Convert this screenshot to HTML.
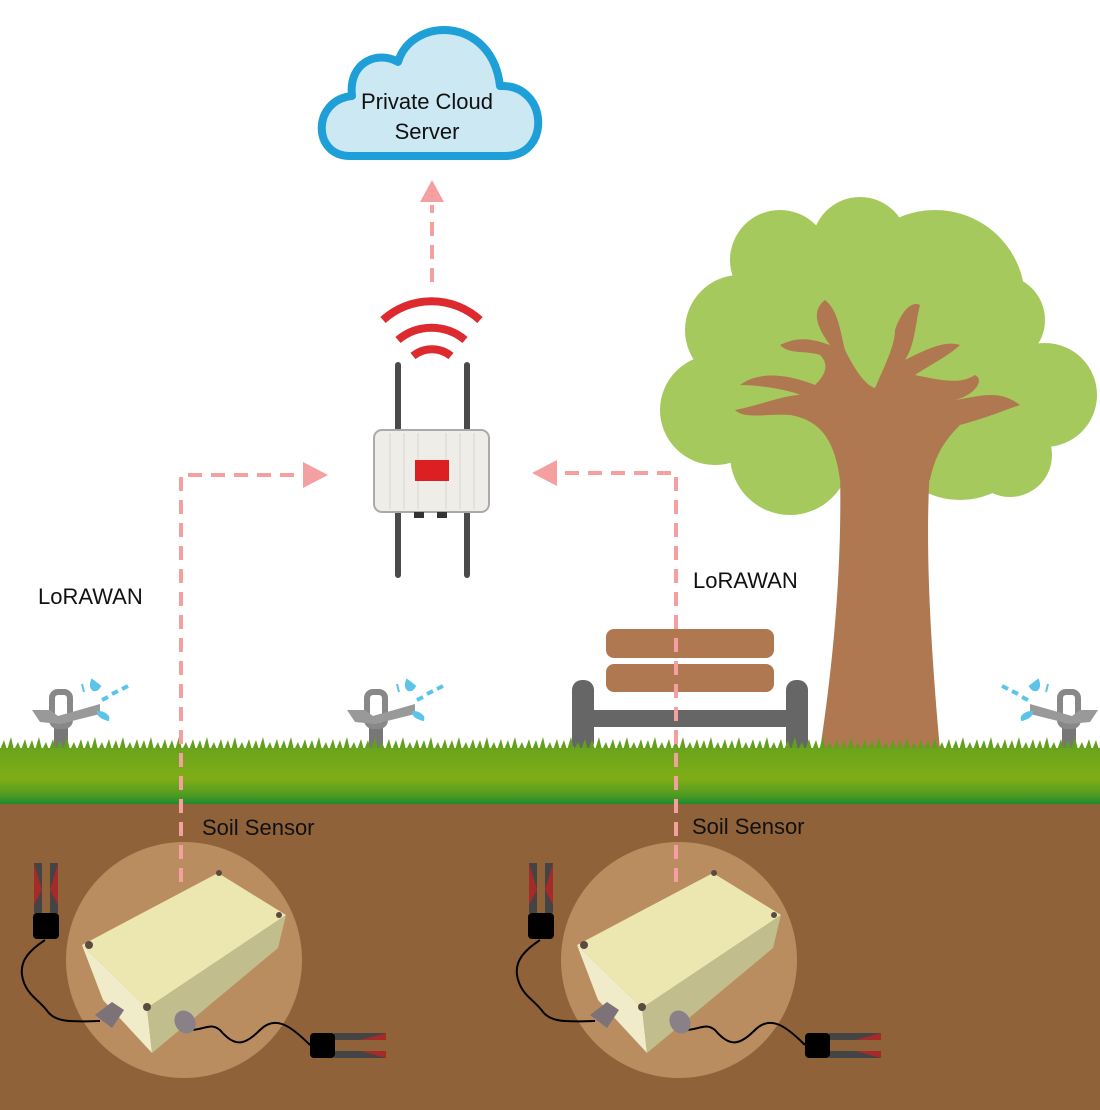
<!DOCTYPE html>
<html><head><meta charset="utf-8"><style>
html,body{margin:0;padding:0;background:#fff}
svg{display:block}
text{font-family:"Liberation Sans",sans-serif}
</style></head><body>
<svg width="1100" height="1110" viewBox="0 0 1100 1110" xmlns="http://www.w3.org/2000/svg">
<defs>
<linearGradient id="grass" x1="0" y1="0" x2="0" y2="1">
<stop offset="0" stop-color="#6aa41c"/><stop offset="0.55" stop-color="#80ad16"/><stop offset="0.85" stop-color="#4d9a22"/><stop offset="1" stop-color="#1d8a2c"/>
</linearGradient>
<pattern id="fringe" x="0" y="736" width="28" height="14" patternUnits="userSpaceOnUse">
<path d="M0 14 L4 4 L7 14 L11 1 L14 14 L18 6 L21 14 L25 3 L28 14Z" fill="#62a01c"/>
</pattern>
<g id="sensor">
<circle cx="184" cy="960" r="118" fill="#b98d60"/>
<path d="M45 940 C30 950 20 960 22 975 C25 995 40 1000 48 1012 C56 1022 70 1022 100 1021" fill="none" stroke="#000" stroke-width="2"/>
<path d="M190 1030 C205 1030 210 1022 220 1030 C235 1048 245 1045 260 1030 C275 1015 290 1025 310 1045" fill="none" stroke="#000" stroke-width="2"/>
<polygon points="82,945 218,873 286,915 147,1008" fill="#ece7b0"/>
<polygon points="82,945 147,1008 152,1053 103,1000" fill="#f0ebc8"/>
<polygon points="147,1008 286,915 278,948 152,1053" fill="#c1bd8c"/>
<circle cx="89" cy="945" r="4" fill="#5a4a40"/><circle cx="219" cy="873" r="3" fill="#5a4a40"/><circle cx="279" cy="915" r="3" fill="#5a4a40"/><circle cx="147" cy="1007" r="4" fill="#5a4a40"/>
<path d="M95 1015 L112 1002 L124 1010 L112 1028 Z" fill="#7d7278"/>
<ellipse cx="185" cy="1022" rx="10" ry="12" fill="#8a8088" transform="rotate(-30 185 1022)"/>
<rect x="34" y="863" width="8" height="50" fill="#444"/><rect x="50" y="863" width="8" height="50" fill="#444"/>
<path d="M34 863 L42 890 L34 905Z M58 863 L50 890 L58 905Z" fill="#a52a2a"/>
<rect x="33" y="913" width="26" height="26" rx="4" fill="#000"/>
<rect x="334" y="1033" width="52" height="7" fill="#444"/><rect x="334" y="1051" width="52" height="7" fill="#444"/>
<path d="M386 1033 L360 1040 L386 1040Z M386 1058 L360 1051 L386 1051Z" fill="#a52a2a"/>
<rect x="310" y="1033" width="25" height="25" rx="4" fill="#000"/>
</g>
<g id="spr">
<rect x="54" y="728" width="14" height="22" fill="#777"/>
<rect x="52" y="692" width="18" height="34" rx="6" fill="none" stroke="#888" stroke-width="6"/>
<polygon points="32,710 50,710 58,716 100,704 100,714 60,724 40,722" fill="#999"/>
<g stroke="#5bc4e8" stroke-width="4"><line x1="102" y1="700" x2="108" y2="697"/><line x1="112" y1="694" x2="118" y2="691"/><line x1="122" y1="689" x2="128" y2="686"/></g>
<path d="M92 680 C88 690 96 694 100 686Z M98 712 C104 712 110 716 108 720 C102 718 98 716 98 712Z M82 684 L84 692" fill="#5bc4e8" stroke="#5bc4e8" stroke-width="2"/>
</g>
</defs>

<!-- tree -->
<g fill="#a6c95d">
<circle cx="860" cy="245" r="48"/><circle cx="820" cy="300" r="75"/><circle cx="935" cy="300" r="90"/>
<circle cx="740" cy="330" r="55"/><circle cx="715" cy="410" r="55"/><circle cx="1000" cy="320" r="45"/>
<circle cx="1045" cy="395" r="52"/><circle cx="1010" cy="455" r="42"/><circle cx="790" cy="455" r="60"/>
<circle cx="960" cy="420" r="80"/><circle cx="860" cy="390" r="100"/><circle cx="780" cy="260" r="50"/>
</g>
<g fill="#b07850">
<path d="M820 750 L940 750 C930 640 925 540 930 470 L840 470 C842 560 835 650 820 750Z"/>
<path d="M840 480 C835 440 820 420 790 415 C770 413 745 420 735 410 C760 405 785 395 800 395 C790 390 760 385 740 385 C760 370 790 375 815 385 C825 375 830 365 820 355 C805 350 790 355 780 345 C800 335 815 340 830 345 C815 325 812 310 825 300 C838 310 840 330 845 350 C855 370 865 385 875 388 C885 365 895 345 895 330 C900 315 910 300 920 305 C915 325 915 345 905 360 C925 350 945 340 960 345 C950 355 930 365 915 375 C940 380 960 385 975 375 C985 380 975 395 955 400 C985 395 1000 390 1020 405 C1000 412 980 420 960 425 C945 440 935 455 930 480Z"/>
</g>

<!-- bench -->
<rect x="606" y="629" width="168" height="29" rx="8" fill="#b07850"/>
<rect x="606" y="664" width="168" height="28" rx="8" fill="#b07850"/>
<rect x="572" y="680" width="22" height="72" rx="10" fill="#666"/>
<rect x="786" y="680" width="22" height="72" rx="10" fill="#666"/>
<rect x="594" y="710" width="192" height="17" fill="#666"/>

<!-- sprinklers -->
<use href="#spr"/>
<use href="#spr" transform="translate(315,0)"/>
<use href="#spr" transform="translate(1130,0) scale(-1,1)"/>

<!-- soil & grass -->
<rect x="0" y="803" width="1100" height="307" fill="#8f6239"/>
<rect x="0" y="736" width="1100" height="14" fill="url(#fringe)"/>
<rect x="0" y="748" width="1100" height="56" fill="url(#grass)"/>

<!-- sensors -->
<use href="#sensor"/>
<use href="#sensor" transform="translate(495,0)"/>

<!-- connectors -->
<g fill="none" stroke="#f4a0a0" stroke-width="4" stroke-dasharray="14,9">
<path d="M432 282 L432 205"/>
<path d="M181 882 L181 475 L300 475"/>
<path d="M676 882 L676 473 L560 473"/>
</g>
<g fill="#f4a0a0">
<polygon points="432,180 420,202 444,202"/>
<polygon points="328,475 303,462 303,488"/>
<polygon points="532,473 557,460 557,486"/>
</g>

<!-- gateway -->
<g fill="none" stroke="#dc2a2e" stroke-width="8">
<path d="M383 320 A72 72 0 0 1 480 320"/>
<path d="M398 340 A52 52 0 0 1 465 340"/>
<path d="M413 356 A30 30 0 0 1 451 356"/>
</g>
<g stroke="#4a4a4a" stroke-width="6" stroke-linecap="round">
<line x1="398" y1="365" x2="398" y2="575"/><line x1="467" y1="365" x2="467" y2="575"/>
</g>
<rect x="374" y="430" width="115" height="82" rx="8" fill="#efede8" stroke="#aaa" stroke-width="2"/>
<g stroke="#ddd" stroke-width="1.5"><line x1="390" y1="433" x2="390" y2="509"/><line x1="404" y1="433" x2="404" y2="509"/><line x1="418" y1="433" x2="418" y2="509"/><line x1="446" y1="433" x2="446" y2="509"/><line x1="460" y1="433" x2="460" y2="509"/><line x1="474" y1="433" x2="474" y2="509"/></g>
<rect x="415" y="460" width="34" height="21" fill="#dc1f22"/>
<rect x="414" y="512" width="10" height="6" fill="#333"/><rect x="437" y="512" width="10" height="6" fill="#333"/>

<!-- cloud -->
<path d="M350 156 C312 156 312 100 352 96 C348 62 378 50 398 62 C412 16 492 16 500 86 C548 84 552 156 505 156 Z" fill="#cbe8f3" stroke="#1e9fd8" stroke-width="8" stroke-linejoin="round"/>
<text x="427" y="109" font-size="22" text-anchor="middle" fill="#111">Private Cloud</text>
<text x="427" y="139" font-size="22" text-anchor="middle" fill="#111">Server</text>

<!-- labels -->
<text x="38" y="604" font-size="22" fill="#111">LoRAWAN</text>
<text x="693" y="588" font-size="22" fill="#111">LoRAWAN</text>
<text x="202" y="835" font-size="22" fill="#111">Soil Sensor</text>
<text x="692" y="834" font-size="22" fill="#111">Soil Sensor</text>
</svg>
</body></html>
